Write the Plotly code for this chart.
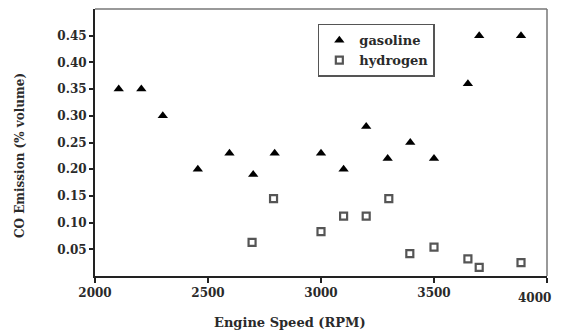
import plotly.graph_objects as go

gas_rpm = [2105, 2205, 2300, 2455, 2595, 2700, 2795, 3000, 3100, 3200, 3295, 3395, 3500, 3650, 3700, 3885]
gas_co = [0.35, 0.35, 0.30, 0.20, 0.23, 0.19, 0.23, 0.23, 0.20, 0.28, 0.22, 0.25, 0.22, 0.36, 0.45, 0.45]
h2_rpm = [2695, 2790, 3000, 3100, 3200, 3300, 3393, 3500, 3650, 3700, 3885]
h2_co = [0.063, 0.145, 0.083, 0.112, 0.112, 0.145, 0.042, 0.054, 0.032, 0.016, 0.025]

x_ticks = [2000, 2500, 3000, 3500, 4000]
y_ticks = [0.05, 0.10, 0.15, 0.20, 0.25, 0.30, 0.35, 0.40, 0.45]

FONT = "DejaVu Serif"
TXT = "#2a2a2a"
TICKFONT = dict(family=FONT, size=12, weight="bold", color=TXT)

fig = go.Figure()
fig.add_trace(go.Scatter(x=gas_rpm, y=gas_co, mode="markers", name="gasoline",
                         marker=dict(symbol="triangle-up", size=9, color="black")))
fig.add_trace(go.Scatter(x=h2_rpm, y=h2_co, mode="markers", name="hydrogen",
                         marker=dict(symbol="square-open", size=7, color="#555555",
                                     line=dict(width=2.2, color="#555555"))))

fig.update_layout(
    width=553, height=325,
    margin=dict(l=87, r=14, t=1, b=57, autoexpand=False),
    paper_bgcolor="white", plot_bgcolor="white",
    font=dict(family=FONT, color=TXT, size=12),
    showlegend=True,
    legend=dict(x=0.493, y=0.945, xanchor="left", yanchor="top",
                bordercolor="#555555", borderwidth=1.5, bgcolor="white",
                font=dict(family=FONT, size=13, weight="bold", color=TXT),
                tracegroupgap=0),
)
# last x tick label would overflow the right edge; draw it as annotation slightly shifted
x_text = [str(v) for v in x_ticks]
x_text[-1] = ""
fig.update_xaxes(range=[2000, 4000], tickvals=x_ticks, ticktext=x_text,
                 showgrid=False, zeroline=False, showline=True, linecolor="#222222", linewidth=2,
                 ticks="outside", ticklen=5, tickwidth=1.5, tickcolor="#222222", automargin=False,
                 tickfont=TICKFONT)
fig.add_annotation(text=str(x_ticks[-1]), xref="x", yref="paper", x=x_ticks[-1], y=0,
                   yshift=-22, xshift=-13, xanchor="center", yanchor="middle", showarrow=False,
                   font=TICKFONT)
fig.update_yaxes(range=[0, 0.5], tickvals=y_ticks, ticktext=[f"{v:.2f}" for v in y_ticks],
                 showgrid=False, zeroline=False, showline=True, linecolor="#222222", linewidth=2,
                 ticks="outside", ticklen=4, tickwidth=1.5, tickcolor="#222222", automargin=False,
                 tickfont=TICKFONT)
fig.add_annotation(text="Engine Speed (RPM)", xref="paper", yref="paper", x=0.431, y=-0.176,
                   xanchor="center", yanchor="middle", showarrow=False,
                   font=dict(family=FONT, size=13, weight="bold", color=TXT))
fig.add_annotation(text="CO Emission (% volume)", xref="paper", yref="paper", x=-0.166, y=0.453,
                   xanchor="center", yanchor="middle", showarrow=False, textangle=-90,
                   font=dict(family=FONT, size=12, weight="bold", color=TXT))
# light frame on top/right
fig.add_shape(type="line", xref="paper", yref="paper", x0=0, x1=1, y0=1, y1=1,
              line=dict(color="#777777", width=1.5))
fig.add_shape(type="line", xref="paper", yref="paper", x0=1, x1=1, y0=0, y1=1,
              line=dict(color="#777777", width=1.5))

fig.write_html("out.html")
